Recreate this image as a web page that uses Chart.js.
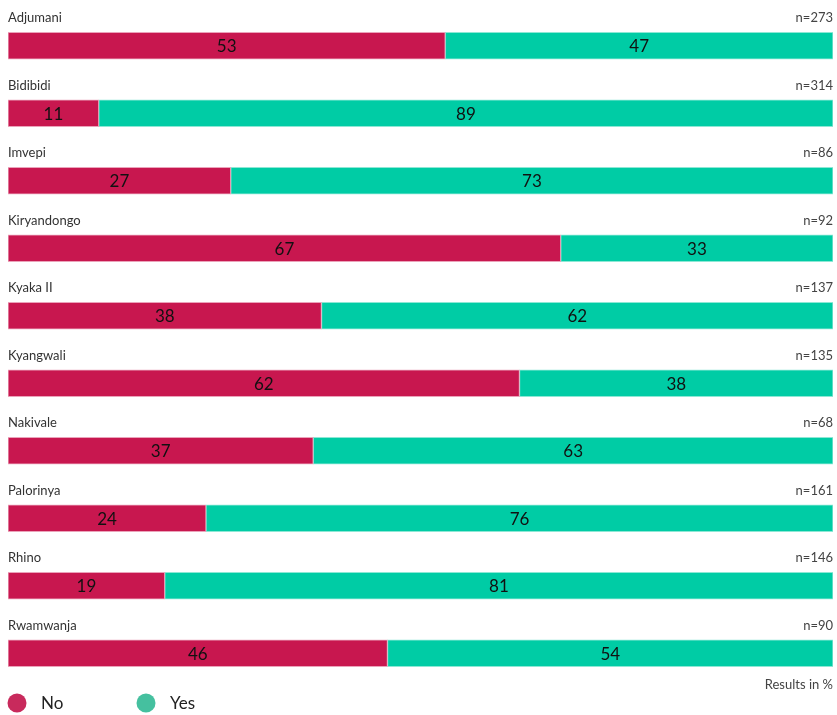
<!DOCTYPE html>
<html>
<head>
<meta charset="utf-8">
<script src="https://cdn.jsdelivr.net/npm/chart.js@4"></script>
<style>
  html, body { margin: 0; padding: 0; background: #fff; }
  #wrap { position: relative; width: 837px; height: 715px; }
</style>
</head>
<body>
<div id="wrap"><canvas id="bars" width="837" height="715"></canvas></div>
<script>
// settlements and their sample sizes
var settlements = ['Adjumani', 'Bidibidi', 'Imvepi', 'Kiryandongo', 'Kyaka II', 'Kyangwali', 'Nakivale', 'Palorinya', 'Rhino', 'Rwamwanja'];
var sampleSizes = [273, 314, 86, 92, 137, 135, 68, 161, 146, 90];
var noValues = [53, 11, 27, 67, 38, 62, 37, 24, 19, 46];
var yesValues = [47, 89, 73, 33, 62, 38, 63, 76, 81, 54];

var noColor = '#C8174F';
var yesColor = '#00CCA5';
var labelFont = 'Lato, "Noto Sans", sans-serif';

// text above each bar + numbers inside + legend at the bottom
var barText = {
    id: 'barText',
    afterDatasetsDraw: function(chart) {
        var ctx = chart.ctx;
        var area = chart.chartArea;
        ctx.save();
        chart.data.datasets.forEach(function(ds, di) {
            var meta = chart.getDatasetMeta(di);
            meta.data.forEach(function(bar, i) {
                ctx.fillStyle = '#111';
                ctx.font = '17px ' + labelFont;
                ctx.textAlign = 'center';
                ctx.textBaseline = 'middle';
                ctx.fillText(ds.data[i], (bar.x + bar.base) / 2, bar.y + 1);
            });
        });
        var meta0 = chart.getDatasetMeta(0);
        meta0.data.forEach(function(bar, i) {
            var top = bar.y - bar.height / 2;
            ctx.textBaseline = 'alphabetic';
            ctx.font = '13px ' + labelFont;
            ctx.fillStyle = '#333';
            ctx.textAlign = 'left';
            ctx.fillText(settlements[i], area.left, top - 10);
            ctx.fillStyle = '#444';
            ctx.textAlign = 'right';
            ctx.fillText('n=' + sampleSizes[i], area.right, top - 10);
        });

        ctx.font = '13px ' + labelFont;
        ctx.fillStyle = '#444';
        ctx.textAlign = 'right';
        ctx.fillText('Results in %', area.right, 689);

        // legend
        var items = [['No', '#C82A5C', 17], ['Yes', '#45C09F', 146]];
        items.forEach(function(it) {
            ctx.fillStyle = it[1];
            ctx.beginPath();
            ctx.arc(it[2], 703, 9.5, 0, Math.PI * 2);
            ctx.fill();
            ctx.fillStyle = '#222';
            ctx.font = '17px ' + labelFont;
            ctx.textAlign = 'left';
            ctx.textBaseline = 'middle';
            ctx.fillText(it[0], it[2] + 24, 704);
        });
        ctx.restore();
    }
};

var chart = new Chart(document.getElementById('bars').getContext('2d'), {
    type: 'bar',
    data: {
        labels: settlements,
        datasets: [{
            label: 'No',
            data: noValues,
            backgroundColor: noColor,
            borderColor: '#EBA3BA',
            borderWidth: 1,
            borderSkipped: false,
            barThickness: 27
        }, {
            label: 'Yes',
            data: yesValues,
            backgroundColor: yesColor,
            borderColor: '#8DE8D5',
            borderWidth: 1,
            borderSkipped: false,
            barThickness: 27
        }]
    },
    options: {
        indexAxis: 'y',
        responsive: false,
        animation: false,
        layout: { padding: { left: 8, right: 4, top: 12, bottom: 28 } },
        scales: {
            x: { stacked: true, display: false, min: 0, max: 100 },
            y: { stacked: true, display: false }
        },
        plugins: {
            legend: { display: false },
            tooltip: { enabled: false }
        }
    },
    plugins: [barText]
});
</script>
</body>
</html>
